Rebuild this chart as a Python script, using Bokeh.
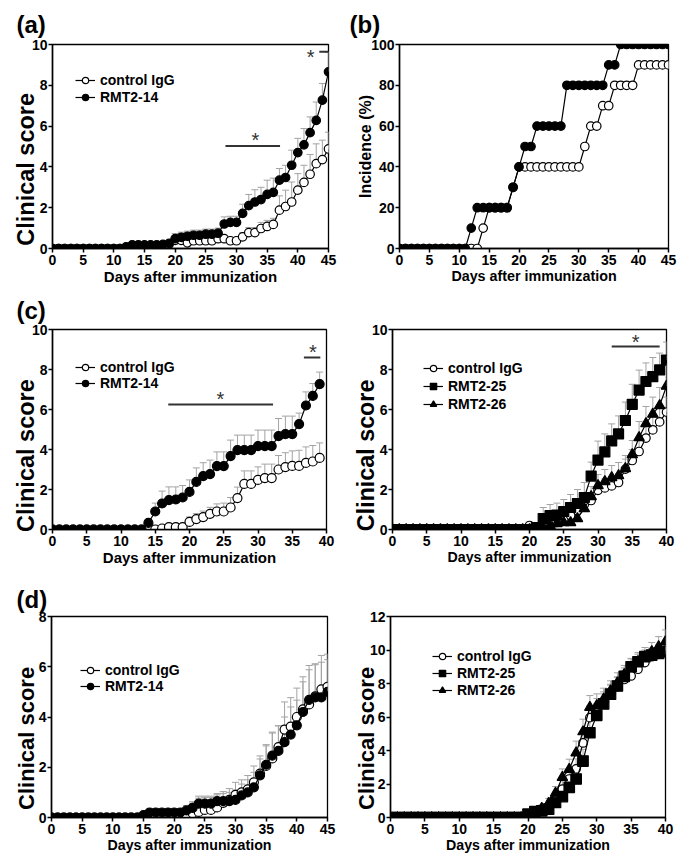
import numpy as np
from bokeh.plotting import figure
from bokeh.models import (ColumnDataSource, Whisker, TeeHead, FixedTicker, Legend,
                          LegendItem, Range1d)
from bokeh.layouts import column, row
from bokeh.embed import file_html
from bokeh.resources import INLINE
from bokeh.core.properties import value

FONT = "Liberation Sans"

# ---------------- tick values ----------------
x_ticks45 = [0, 5, 10, 15, 20, 25, 30, 35, 40, 45]
x_ticks40 = [0, 5, 10, 15, 20, 25, 30, 35, 40]
y_ticks10 = [0, 2, 4, 6, 8, 10]
y_ticks100 = [0, 20, 40, 60, 80, 100]
y_ticks8 = [0, 2, 4, 6, 8]
y_ticks12 = [0, 2, 4, 6, 8, 10, 12]

# ---------------- days ----------------
days45 = list(range(46))
days40 = list(range(41))
days39 = list(range(40))

# ---------------- (a) ----------------
a_ctrl_mean = [0, 0, 0, 0, 0, 0, 0, 0, 0, 0,
               0, 0, 0, 0, 0.05, 0.1, 0.1, 0.1, 0.15, 0.2,
               0.4, 0.4, 0.28, 0.38, 0.38, 0.38, 0.38, 0.48, 0.48, 0.38,
               0.38, 0.57, 0.78, 0.78, 0.98, 1.08, 1.18, 1.88, 2.06, 2.28,
               2.86, 3.24, 3.64, 4.16, 4.36, 4.88]
a_ctrl_sem = [0, 0, 0, 0, 0, 0, 0, 0, 0, 0,
              0, 0, 0, 0, 0, 0, 0, 0, 0, 0,
              0.12, 0.12, 0.12, 0.12, 0.12, 0.12, 0.12, 0.12, 0.12, 0.12,
              0.12, 0.2, 0.25, 0.25, 0.3, 0.3, 0.3, 0.7, 0.8, 0.98,
              0.81, 0.84, 0.97, 0.97, 0.95, 0.82]
a_rmt_mean = [0, 0, 0, 0, 0, 0, 0, 0, 0, 0,
              0, 0, 0.08, 0.18, 0.18, 0.18, 0.18, 0.18, 0.2, 0.25,
              0.48, 0.55, 0.6, 0.65, 0.65, 0.7, 0.7, 0.75, 1.2, 1.28,
              1.28, 1.72, 2.1, 2.28, 2.4, 2.65, 2.75, 3.35, 3.48, 4.08,
              4.7, 5.08, 5.68, 6.28, 7.27, 8.66]
a_rmt_sem = [0, 0, 0, 0, 0, 0, 0, 0, 0, 0,
             0, 0, 0, 0, 0, 0, 0, 0, 0, 0,
             0.25, 0.25, 0.25, 0.25, 0.25, 0.25, 0.25, 0.25, 0.35, 0.3,
             0.3, 0.45, 0.55, 0.6, 0.6, 0.7, 0.7, 0.57, 0.6, 0.74,
             0.7, 0.8, 0.77, 0.9, 0.82, 0.95]

# ---------------- (b) incidence ----------------
b_ctrl = [0, 0, 0, 0, 0, 0, 0, 0, 0, 0,
          0, 0, 0, 0, 10, 20, 20, 20, 20, 30,
          40, 40, 40, 40, 40, 40, 40, 40, 40, 40,
          40, 50, 60, 60, 70, 70, 80, 80, 80, 80,
          90, 90, 90, 90, 90, 90]
b_rmt = [0, 0, 0, 0, 0, 0, 0, 0, 0, 0,
         0, 0, 10, 20, 20, 20, 20, 20, 20, 30,
         40, 50, 50, 60, 60, 60, 60, 60, 80, 80,
         80, 80, 80, 80, 80, 90, 90, 100, 100, 100,
         100, 100, 100, 100, 100, 100]

# ---------------- (c) left ----------------
c1_ctrl_mean = [0, 0, 0, 0, 0, 0, 0, 0, 0, 0,
                0, 0, 0, 0, 0, 0, 0.05, 0.12, 0.12, 0.12,
                0.38, 0.52, 0.62, 0.78, 0.9, 0.9, 1.1, 1.57, 2.28, 2.28,
                2.48, 2.57, 2.57, 3.0, 3.12, 3.18, 3.18, 3.33, 3.4, 3.58]
c1_ctrl_sem = [0, 0, 0, 0, 0, 0, 0, 0, 0, 0,
               0, 0, 0, 0, 0, 0, 0, 0, 0, 0,
               0.25, 0.28, 0.3, 0.33, 0.38, 0.42, 0.5, 0.55, 0.65, 0.65,
               0.65, 0.7, 0.7, 0.7, 0.72, 0.75, 0.78, 0.8, 0.8, 0.75]
c1_rmt_mean = [0, 0, 0, 0, 0, 0, 0, 0, 0, 0,
               0, 0, 0, 0, 0.33, 0.9, 1.3, 1.47, 1.5, 1.6,
               1.88, 2.38, 2.67, 2.77, 3.17, 3.17, 3.67, 3.97, 3.97, 3.97,
               4.17, 4.17, 4.17, 4.67, 4.77, 4.77, 5.27, 6.2, 6.68, 7.27]
c1_rmt_sem = [0, 0, 0, 0, 0, 0, 0, 0, 0, 0,
              0, 0, 0, 0, 0, 0.42, 0.62, 0.66, 0.63, 0.6,
              0.6, 0.7, 0.67, 0.7, 0.71, 0.71, 0.8, 0.75, 0.75, 0.75,
              0.8, 0.8, 0.8, 0.88, 0.9, 0.9, 0.55, 0.68, 0.62, 0.6]

# ---------------- (c) right ----------------
c2_ctrl_mean = [0, 0, 0, 0, 0, 0, 0, 0, 0, 0,
                0, 0, 0, 0, 0, 0, 0, 0, 0, 0,
                0.2, 0.12, 0.25, 0.3, 0.35, 0.5, 0.7, 0.95, 1.25, 1.45,
                1.96, 2.08, 2.18, 2.35, 3.02, 3.45, 3.9, 4.57, 4.98, 5.38,
                5.87]
c2_ctrl_sem = [0, 0, 0, 0, 0, 0, 0, 0, 0, 0,
               0, 0, 0, 0, 0, 0, 0, 0, 0, 0,
               0.1, 0.1, 0.2, 0.25, 0.3, 0.3, 0.35, 0.35, 0.4, 0.4,
               0.4, 0.45, 0.45, 0.45, 0.5, 0.55, 0.6, 0.65, 0.65, 0.7,
               0.75]
c2_r25_mean = [0, 0, 0, 0, 0, 0, 0, 0, 0, 0,
               0, 0, 0, 0, 0, 0, 0, 0, 0, 0,
               0, 0.1, 0.55, 0.7, 0.72, 0.9, 1.1, 1.3, 1.6, 2.67,
               3.47, 3.88, 4.43, 4.78, 5.45, 6.26, 6.97, 7.4, 7.64, 7.98,
               8.47]
c2_r25_sem = [0, 0, 0, 0, 0, 0, 0, 0, 0, 0,
              0, 0, 0, 0, 0, 0, 0, 0, 0, 0,
              0, 0.2, 0.55, 0.55, 0.6, 0.6, 0.65, 0.7, 0.75, 0.7,
              0.95, 0.9, 0.85, 0.9, 0.92, 1.0, 1.0, 0.93, 0.96, 0.84,
              0.9]
c2_r26_mean = [0, 0, 0, 0, 0, 0, 0, 0, 0, 0,
               0, 0, 0, 0, 0, 0, 0, 0, 0, 0,
               0, 0, 0.1, 0.2, 0.3, 0.35, 0.35, 0.55, 1.05, 1.65,
               2.2, 2.4, 2.6, 2.7, 3.05, 3.75, 4.6, 5.3, 5.77, 6.2,
               7.17]
c2_r26_sem = [0, 0, 0, 0, 0, 0, 0, 0, 0, 0,
              0, 0, 0, 0, 0, 0, 0, 0, 0, 0,
              0, 0, 0.2, 0.3, 0.3, 0.35, 0.35, 0.4, 0.45, 0.5,
              0.55, 0.6, 0.6, 0.65, 0.65, 0.7, 0.8, 0.85, 0.85, 0.9,
              1.1]

# ---------------- (d) left ----------------
d1_ctrl_mean = [0, 0, 0, 0, 0, 0, 0, 0, 0, 0,
                0, 0, 0, 0, 0, 0, 0, 0, 0, 0,
                0, 0, 0.12, 0.17, 0.22, 0.3, 0.3, 0.4, 0.58, 0.7,
                0.9, 1.0, 1.12, 1.4, 1.75, 2.05, 2.35, 2.8, 3.5, 3.62,
                4.0, 4.3, 4.5, 4.82, 5.1, 5.2]
d1_ctrl_sem = [0, 0, 0, 0, 0, 0, 0, 0, 0, 0,
               0, 0, 0, 0, 0, 0, 0, 0, 0, 0,
               0, 0, 0, 0.4, 0.55, 0.5, 0.5, 0.5, 0.45, 0.45,
               0.5, 0.5, 0.55, 0.65, 0.7, 0.85, 1.05, 0.85, 1.1, 1.15,
               1.15, 1.3, 1.55, 1.3, 1.35, 1.3]
d1_rmt_mean = [0, 0, 0, 0, 0, 0, 0, 0, 0, 0,
               0, 0, 0, 0, 0, 0.1, 0.2, 0.2, 0.2, 0.2,
               0.2, 0.2, 0.28, 0.38, 0.55, 0.55, 0.55, 0.65, 0.65, 0.65,
               0.7, 0.88, 1.0, 1.2, 1.68, 2.1, 2.46, 2.65, 3.0, 3.3,
               3.67, 4.2, 4.68, 4.78, 4.78, 5.0]
d1_rmt_sem = [0, 0, 0, 0, 0, 0, 0, 0, 0, 0,
              0, 0, 0, 0, 0, 0, 0, 0, 0, 0,
              0, 0, 0.2, 0.25, 0.3, 0.3, 0.3, 0.3, 0.3, 0.35,
              0.4, 0.45, 0.5, 0.6, 0.65, 0.75, 0.9, 1.0, 1.0, 1.1,
              1.0, 1.2, 1.2, 1.3, 1.4, 1.28]

# ---------------- (d) right ----------------
d2_ctrl_mean = [0, 0, 0, 0, 0, 0, 0, 0, 0, 0,
                0, 0, 0, 0, 0, 0, 0, 0, 0, 0,
                0.1, 0.2, 0.4, 0.6, 1.1, 1.7, 2.3, 2.9, 4.45, 5.96,
                6.5, 6.9, 7.3, 7.8, 8.24, 8.45, 8.85, 9.25, 9.6, 9.8,
                10.0]
d2_ctrl_sem = [0, 0, 0, 0, 0, 0, 0, 0, 0, 0,
               0, 0, 0, 0, 0, 0, 0, 0, 0, 0,
               0.1, 0.15, 0.2, 0.3, 0.4, 0.5, 0.6, 0.6, 0.7, 0.7,
               0.6, 0.6, 0.6, 0.55, 0.55, 0.5, 0.5, 0.5, 0.5, 0.5,
               0.5]
d2_r25_mean = [0, 0, 0, 0, 0, 0, 0, 0, 0, 0,
               0, 0, 0, 0, 0, 0, 0, 0, 0, 0,
               0.2, 0.35, 0.4, 0.5, 0.9, 1.25, 1.8, 2.3, 3.37, 5.06,
               6.1, 6.78, 7.36, 7.85, 8.43, 9.0, 9.3, 9.6, 9.7, 9.8,
               9.9]
d2_r25_sem = [0, 0, 0, 0, 0, 0, 0, 0, 0, 0,
              0, 0, 0, 0, 0, 0, 0, 0, 0, 0,
              0.1, 0.15, 0.2, 0.3, 0.4, 0.5, 0.6, 0.6, 0.7, 0.8,
              0.7, 0.6, 0.6, 0.55, 0.5, 0.5, 0.45, 0.4, 0.4, 0.4,
              0.4]
d2_r26_mean = [0, 0, 0, 0, 0, 0, 0, 0, 0, 0,
               0, 0, 0, 0, 0, 0, 0, 0, 0, 0,
               0, 0.3, 0.55, 0.84, 1.45, 2.4, 2.88, 3.86, 5.12, 6.58,
               6.68, 7.07, 7.56, 8.04, 8.53, 8.92, 9.3, 9.6, 9.9, 10.2,
               10.5]
d2_r26_sem = [0, 0, 0, 0, 0, 0, 0, 0, 0, 0,
              0, 0, 0, 0, 0, 0, 0, 0, 0, 0,
              0, 0.1, 0.2, 0.3, 0.4, 0.5, 0.6, 0.7, 0.75, 0.7,
              0.7, 0.65, 0.6, 0.6, 0.55, 0.55, 0.55, 0.55, 0.55, 0.6,
              0.7]

LBL_CTRL = "control IgG"
LBL_14 = "RMT2-14"
LBL_25 = "RMT2-25"
LBL_26 = "RMT2-26"
XLABEL = "Days after immunization"
YLABEL_SCORE = "Clinical score"
YLABEL_INC = "Incidence (%)"
NBSP = "\u00a0"
ERR_COLOR = "#a3a3a3"
STAR_COLOR = "#333333"


def base_fig(w, h, xticks, yticks, borders, ylabel, ylab_size, ylab_standoff, xlab_size):
    l, r, t, b = borders
    p = figure(width=w, height=h,
               x_range=Range1d(xticks[0], xticks[-1]), y_range=Range1d(yticks[0], yticks[-1]),
               output_backend="svg", toolbar_location=None, tools="",
               min_border_left=l, min_border_right=r, min_border_top=t, min_border_bottom=b,
               x_axis_label=XLABEL, y_axis_label=ylabel)
    p.grid.visible = False
    p.outline_line_color = "black"
    p.outline_line_width = 1.3
    p.outline_line_alpha = 1.0
    p.background_fill_color = "white"
    p.border_fill_color = "white"
    p.xaxis.ticker = FixedTicker(ticks=xticks)
    p.yaxis.ticker = FixedTicker(ticks=yticks)
    for ax in (p.xaxis[0], p.yaxis[0]):
        ax.axis_line_color = "black"
        ax.axis_line_width = 1.5
        ax.major_tick_line_color = "black"
        ax.major_tick_line_width = 1.5
        ax.major_tick_in = 0
        ax.major_tick_out = 4
        ax.minor_tick_line_color = None
        ax.major_label_text_font = FONT
        ax.major_label_text_font_style = "bold"
        ax.major_label_text_font_size = "14px"
        ax.major_label_text_color = "black"
        ax.axis_label_text_font = FONT
        ax.axis_label_text_font_style = "bold"
        ax.axis_label_text_color = "black"
    p.xaxis.major_label_standoff = 2
    p.yaxis.major_label_standoff = 1
    p.xaxis.axis_label_text_font_size = f"{xlab_size}px"
    p.yaxis.axis_label_text_font_size = f"{ylab_size}px"
    p.xaxis.axis_label_standoff = 0
    p.yaxis.axis_label_standoff = ylab_standoff
    return p


def set_panel_title(p, text, offset, standoff):
    p.title.text = text
    p.title.text_font = FONT
    p.title.text_font_style = "bold"
    p.title.text_font_size = "24px"
    p.title.text_color = "black"
    p.title.align = "left"
    p.title.offset = offset
    p.title.standoff = standoff


def add_err(p, days, mean, sem):
    d = np.asarray(days, dtype=float)
    m = np.asarray(mean, dtype=float)
    s = np.asarray(sem, dtype=float)
    k = s > 0
    if not k.any():
        return
    src = ColumnDataSource(dict(x=d[k], lo=m[k], hi=m[k] + s[k]))
    w = Whisker(source=src, base="x", lower="lo", upper="hi", dimension="height",
                line_color=ERR_COLOR, line_width=1, lower_head=None,
                upper_head=TeeHead(size=7, line_color=ERR_COLOR, line_width=1))
    p.add_layout(w)


def add_series(p, days, mean, marker, size, fill):
    src = ColumnDataSource(dict(x=days, y=mean))
    ln = p.line("x", "y", source=src, line_color="black", line_width=1.2)
    sc = p.scatter("x", "y", source=src, marker=marker, size=size,
                   fill_color=fill, line_color="black", line_width=1.2)
    return [ln, sc]


def add_legend(p, items, loc, spacing):
    lg = Legend(items=[LegendItem(label=lab, renderers=r) for lab, r in items],
                location=loc, label_text_font=FONT, label_text_font_style="bold",
                label_text_font_size="14px", label_text_color="black",
                glyph_width=20, glyph_height=16, label_height=16, label_standoff=5,
                spacing=spacing, padding=0, margin=0,
                border_line_color=None, background_fill_alpha=0)
    p.add_layout(lg)


def add_star(p, x0, x1, yl, xs, ys):
    p.segment(x0=[x0], y0=[yl], x1=[x1], y1=[yl], line_color=STAR_COLOR, line_width=2)
    p.text(x=[xs], y=[ys], text=["*"], text_font=value(FONT), text_font_size="20px",
           text_align="center", text_baseline="alphabetic", text_color=STAR_COLOR,
           y_offset=3)


# ---------------- panel (a) ----------------
pa = base_fig(342, 287, x_ticks45, y_ticks10, (52, 14, 44, 39),
              YLABEL_SCORE + NBSP * 7, 23.5, -10, 15)
set_panel_title(pa, "(a)", -36, 14)
add_err(pa, days45, a_ctrl_mean, a_ctrl_sem)
add_err(pa, days45, a_rmt_mean, a_rmt_sem)
ra_c = add_series(pa, days45, a_ctrl_mean, "circle", 8.5, "white")
ra_r = add_series(pa, days45, a_rmt_mean, "circle", 8.5, "black")
add_legend(pa, [(LBL_CTRL, ra_c), (LBL_14, ra_r)], (23, 143), 1)
add_star(pa, 28.2, 37.1, 5.02, 33.1, 5.45)
add_star(pa, 43.5, 45.2, 9.64, 42.1, 9.55)

# ---------------- panel (b) ----------------
pb = base_fig(343, 287, x_ticks45, y_ticks100, (57, 17, 44, 39), YLABEL_INC, 16, -6, 14.3)
set_panel_title(pb, "(b)", -50, 14)
rb_c = add_series(pb, days45, b_ctrl, "circle", 8.5, "white")
rb_r = add_series(pb, days45, b_rmt, "circle", 8.5, "black")

# ---------------- panel (c) left ----------------
pc1 = base_fig(342, 288, x_ticks40, y_ticks10, (52, 16, 42, 46),
               YLABEL_SCORE + NBSP * 8, 23.5, -10, 15)
set_panel_title(pc1, "(c)", -36, 12)
add_err(pc1, days39, c1_ctrl_mean, c1_ctrl_sem)
add_err(pc1, days39, c1_rmt_mean, c1_rmt_sem)
rc1_c = add_series(pc1, days39, c1_ctrl_mean, "circle", 9, "white")
rc1_r = add_series(pc1, days39, c1_rmt_mean, "circle", 9, "black")
add_legend(pc1, [(LBL_CTRL, rc1_c), (LBL_14, rc1_r)], (23, 138), 0)
add_star(pc1, 16.9, 32.2, 6.25, 24.5, 6.7)
add_star(pc1, 36.7, 39.1, 8.6, 38.0, 9.05)

# ---------------- panel (c) right ----------------
pc2 = base_fig(343, 288, x_ticks40, y_ticks10, (50, 19, 42, 42),
               YLABEL_SCORE + NBSP * 8, 23.3, -10, 14.2)
add_err(pc2, days40, c2_ctrl_mean, c2_ctrl_sem)
add_err(pc2, days40, c2_r26_mean, c2_r26_sem)
add_err(pc2, days40, c2_r25_mean, c2_r25_sem)
rc2_c = add_series(pc2, days40, c2_ctrl_mean, "circle", 8.5, "white")
rc2_26 = add_series(pc2, days40, c2_r26_mean, "triangle", 10.5, "black")
rc2_25 = add_series(pc2, days40, c2_r25_mean, "square", 10, "black")
add_legend(pc2, [(LBL_CTRL, rc2_c), (LBL_25, rc2_25), (LBL_26, rc2_26)], (31, 117), 2)
add_star(pc2, 32.0, 39.0, 9.15, 35.5, 9.55)

# ---------------- panel (d) left ----------------
pd1 = base_fig(342, 292, x_ticks45, y_ticks8, (51, 15, 41, 50),
               YLABEL_SCORE + NBSP * 7, 22, -3, 14.2)
set_panel_title(pd1, "(d)", -35, 7)
add_err(pd1, days45, d1_ctrl_mean, d1_ctrl_sem)
add_err(pd1, days45, d1_rmt_mean, d1_rmt_sem)
rd1_c = add_series(pd1, days45, d1_ctrl_mean, "circle", 9, "white")
rd1_r = add_series(pd1, days45, d1_rmt_mean, "circle", 9, "black")
add_legend(pd1, [(LBL_CTRL, rd1_c), (LBL_14, rd1_r)], (29, 123), 0)

# ---------------- panel (d) right ----------------
pd2 = base_fig(343, 292, x_ticks40, y_ticks12, (48, 20, 40, 49),
               YLABEL_SCORE + NBSP * 7, 22, -12, 14.2)
add_err(pd2, days40, d2_ctrl_mean, d2_ctrl_sem)
add_err(pd2, days40, d2_r26_mean, d2_r26_sem)
add_err(pd2, days40, d2_r25_mean, d2_r25_sem)
rd2_c = add_series(pd2, days40, d2_ctrl_mean, "circle", 8.5, "white")
rd2_26 = add_series(pd2, days40, d2_r26_mean, "triangle", 10.5, "black")
rd2_25 = add_series(pd2, days40, d2_r25_mean, "square", 10.5, "black")
add_legend(pd2, [(LBL_CTRL, rd2_c), (LBL_25, rd2_25), (LBL_26, rd2_26)], (42, 119), 1)

layout = column(row(pa, pb), row(pc1, pc2), row(pd1, pd2))

with open("out.html", "w") as f:
    f.write(file_html(layout, INLINE))
